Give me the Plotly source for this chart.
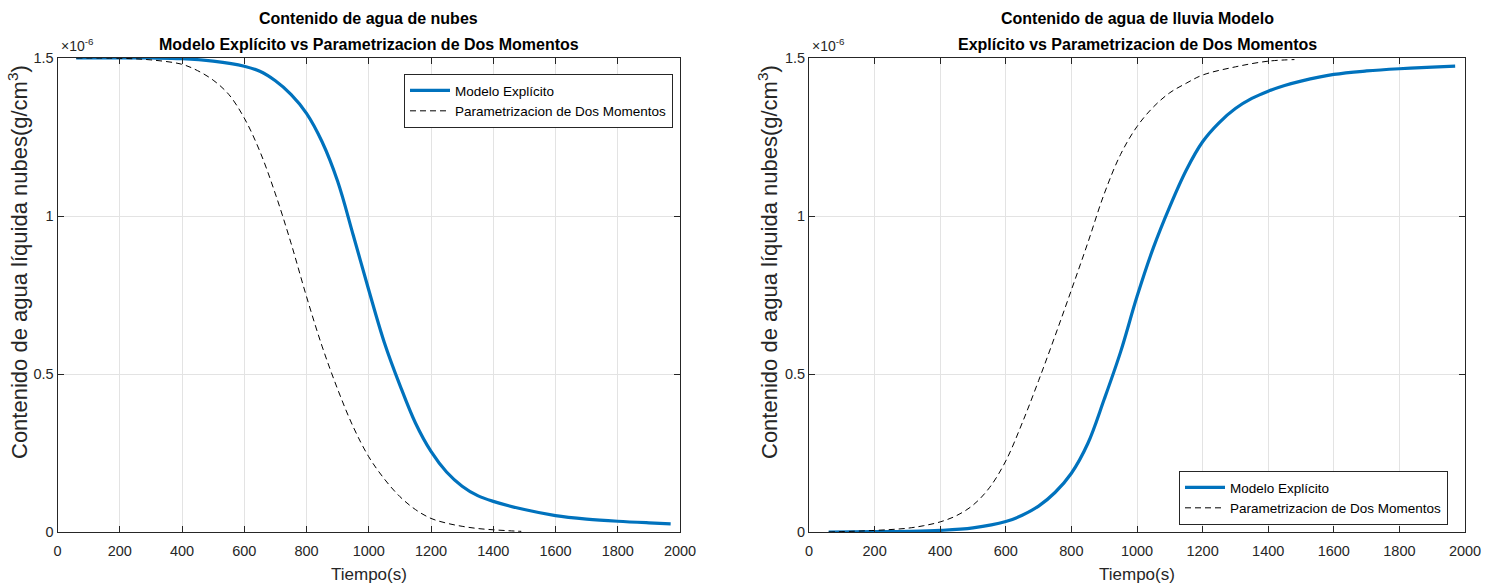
import plotly.graph_objects as go

W, H = 1496, 586

# Contenido de agua en unidades de 1e-6 g/cm^3, tiempo en segundos
t_nube_exp = [60, 200, 300, 400, 500, 600, 650, 700, 750, 800, 850, 900, 950, 1000, 1050,
              1100, 1150, 1200, 1250, 1300, 1350, 1400, 1500, 1600, 1700, 1800, 1900, 1970]
nube_exp = [1.500, 1.500, 1.500, 1.498, 1.490, 1.474, 1.458, 1.428, 1.385, 1.325, 1.235,
            1.110, 0.940, 0.766, 0.600, 0.465, 0.345, 0.255, 0.190, 0.145, 0.115, 0.097,
            0.071, 0.052, 0.041, 0.034, 0.029, 0.026]

t_nube_dm = [60, 200, 300, 400, 450, 500, 550, 600, 650, 700, 750, 800, 850, 900, 950,
             1000, 1050, 1100, 1150, 1200, 1250, 1300, 1350, 1400, 1450, 1490]
nube_dm = [1.500, 1.499, 1.494, 1.480, 1.460, 1.430, 1.385, 1.310, 1.205, 1.070, 0.915,
           0.745, 0.588, 0.452, 0.333, 0.238, 0.168, 0.112, 0.071, 0.043, 0.028, 0.018,
           0.011, 0.007, 0.004, 0.002]

t_lluvia_exp = [60, 200, 300, 400, 500, 600, 650, 700, 750, 800, 850, 900, 950, 1000, 1050,
                1100, 1150, 1200, 1250, 1300, 1350, 1400, 1450, 1500, 1600, 1700, 1800,
                1900, 1970]
lluvia_exp = [0.000, 0.001, 0.002, 0.005, 0.013, 0.033, 0.053, 0.082, 0.125, 0.186, 0.280,
              0.420, 0.570, 0.745, 0.900, 1.030, 1.145, 1.235, 1.295, 1.340, 1.372, 1.395,
              1.413, 1.427, 1.448, 1.459, 1.466, 1.471, 1.474]

t_lluvia_dm = [60, 200, 300, 350, 400, 450, 500, 550, 600, 650, 700, 750, 800, 850, 900,
               950, 1000, 1050, 1100, 1150, 1200, 1300, 1400, 1480]
lluvia_dm = [0.000, 0.005, 0.012, 0.020, 0.032, 0.052, 0.085, 0.140, 0.225, 0.345, 0.479,
             0.620, 0.766, 0.915, 1.070, 1.195, 1.283, 1.345, 1.390, 1.420, 1.446, 1.472,
             1.490, 1.495]

x_ticks = list(range(0, 2001, 200))
y_ticks = [0, 0.5, 1, 1.5]
y_ticklabels = ["0", "0.5", "1", "1.5"]

nombre_exp = "Modelo Explícito"
nombre_dm = "Parametrizacion de Dos Momentos"
titulo_izq = ["Contenido de agua de nubes",
              "Modelo Explícito vs Parametrizacion de Dos Momentos"]
titulo_der = ["Contenido de agua de lluvia Modelo",
              "Explícito vs Parametrizacion de Dos Momentos"]
etiqueta_y = "Contenido de agua líquida nubes(g/cm<sup>3</sup>)"
etiqueta_x = "Tiempo(s)"

AZUL = "#0072BD"
EJE = "#262626"
GRID = "#e3e3e3"
FONT = "Liberation Sans, Arial, Helvetica, sans-serif"


def px_x(p):
    return p / W


def px_y(p):
    return 1 - p / H


# Plot areas in pixels: (left, right), top/bottom shared
izq = (57.5, 680)
der = (809, 1465)
top, bottom = 58, 532

fig = go.Figure()

lin_exp = dict(color=AZUL, width=3.2, shape="spline", smoothing=1.0)
lin_dm = dict(color="#000000", width=1, dash="6px,4px", shape="spline", smoothing=1.0)

fig.add_trace(go.Scatter(x=t_nube_exp, y=nube_exp, mode="lines", name=nombre_exp,
                         line=lin_exp, xaxis="x", yaxis="y", legend="legend"))
fig.add_trace(go.Scatter(x=t_nube_dm, y=nube_dm, mode="lines", name=nombre_dm,
                         line=lin_dm, xaxis="x", yaxis="y", legend="legend"))
fig.add_trace(go.Scatter(x=t_lluvia_exp, y=lluvia_exp, mode="lines", name=nombre_exp,
                         line=lin_exp, xaxis="x2", yaxis="y2", legend="legend2"))
fig.add_trace(go.Scatter(x=t_lluvia_dm, y=lluvia_dm, mode="lines", name=nombre_dm,
                         line=lin_dm, xaxis="x2", yaxis="y2", legend="legend2"))

eje_x = dict(range=[0, 2000], tickmode="array", tickvals=x_ticks, ticks="inside",
             ticklen=6, tickcolor=EJE, showline=True, linecolor=EJE, linewidth=1,
             mirror="ticks", showgrid=True, gridcolor=GRID, gridwidth=1, zeroline=False,
             ticklabelstandoff=6, automargin=False,
             tickfont=dict(family=FONT, size=14.5, color=EJE), fixedrange=True)
eje_y = dict(range=[0, 1.5], tickmode="array", tickvals=y_ticks, ticktext=y_ticklabels,
             ticks="inside", ticklen=6, tickcolor=EJE, showline=True, linecolor=EJE,
             linewidth=1, mirror="ticks", showgrid=True, gridcolor=GRID, gridwidth=1,
             zeroline=False, automargin=False,
             tickfont=dict(family=FONT, size=14.5, color=EJE), fixedrange=True)

dom_y = [px_y(bottom), px_y(top)]
fig.update_layout(
    width=W, height=H,
    margin=dict(l=0, r=0, t=0, b=0),
    paper_bgcolor="white", plot_bgcolor="white",
    font=dict(family=FONT, color=EJE),
    xaxis=dict(eje_x, domain=[px_x(izq[0]), px_x(izq[1])], anchor="y"),
    yaxis=dict(eje_y, domain=dom_y, anchor="x"),
    xaxis2=dict(eje_x, domain=[px_x(der[0]), px_x(der[1])], anchor="y2"),
    yaxis2=dict(eje_y, domain=dom_y, anchor="x2"),
    legend=dict(x=px_x(673), y=px_y(74), xanchor="right", yanchor="top",
                bgcolor="white", bordercolor=EJE, borderwidth=1,
                font=dict(family=FONT, size=13.5, color="#000000"),
                tracegroupgap=0, itemwidth=40),
    legend2=dict(x=px_x(1448), y=px_y(471), xanchor="right", yanchor="top",
                 bgcolor="white", bordercolor=EJE, borderwidth=1,
                 font=dict(family=FONT, size=13.5, color="#000000"),
                 tracegroupgap=0, itemwidth=40),
    showlegend=True,
)

anotaciones = []
for (l, r), lineas in ((izq, titulo_izq), (der, titulo_der)):
    cx = px_x((l + r) / 2)
    for texto, yy in zip(lineas, (18, 44)):
        anotaciones.append(dict(text="<b>" + texto + "</b>", x=cx, y=px_y(yy),
                                xref="paper", yref="paper", xanchor="center",
                                yanchor="middle", showarrow=False,
                                font=dict(family=FONT, size=16, color="#000000")))
    # multiplicador del eje y
    anotaciones.append(dict(text="×10<sup>-6</sup>", x=px_x(l + 1), y=px_y(56),
                            xref="paper", yref="paper", xanchor="left", yanchor="bottom",
                            showarrow=False, font=dict(family=FONT, size=14, color=EJE)))
    # etiqueta del eje x
    anotaciones.append(dict(text=etiqueta_x, x=px_x((l + r) / 2), y=px_y(574),
                            xref="paper", yref="paper", xanchor="center", yanchor="middle",
                            showarrow=False, font=dict(family=FONT, size=17, color=EJE)))

for cx in (18, 768):
    anotaciones.append(dict(text=etiqueta_y, x=px_x(cx), y=px_y(262), textangle=-90,
                            xref="paper", yref="paper", xanchor="center", yanchor="middle",
                            showarrow=False, font=dict(family=FONT, size=22, color=EJE)))

fig.update_layout(annotations=anotaciones)

fig.write_html("out.html")
